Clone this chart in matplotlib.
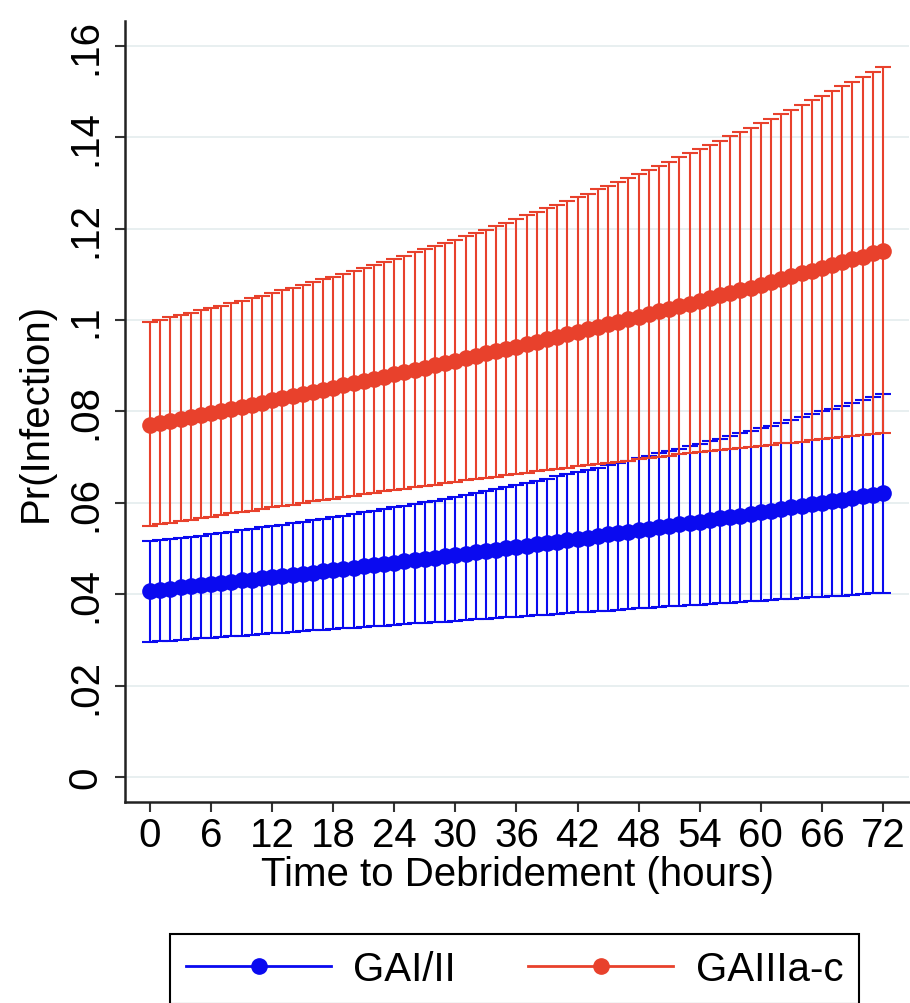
import matplotlib
matplotlib.use("Agg")
import matplotlib.pyplot as plt
from matplotlib.lines import Line2D

# time to debridement, one margin per hour
hours = list(range(73))

# GA I/II: predicted probability and 95% CI
blue_mean = [
    0.0407, 0.0410, 0.0412, 0.0415, 0.0417, 0.0420,
    0.0422, 0.0425, 0.0427, 0.0430, 0.0432, 0.0435,
    0.0437, 0.0440, 0.0442, 0.0445, 0.0447, 0.0450,
    0.0452, 0.0455, 0.0458, 0.0461, 0.0463, 0.0466,
    0.0469, 0.0472, 0.0475, 0.0477, 0.0480, 0.0483,
    0.0486, 0.0489, 0.0492, 0.0494, 0.0497, 0.0500,
    0.0503, 0.0506, 0.0509, 0.0512, 0.0515, 0.0518,
    0.0521, 0.0524, 0.0527, 0.0531, 0.0534, 0.0537,
    0.0540, 0.0543, 0.0546, 0.0550, 0.0553, 0.0556,
    0.0559, 0.0562, 0.0566, 0.0569, 0.0572, 0.0576,
    0.0579, 0.0583, 0.0586, 0.0590, 0.0593, 0.0597,
    0.0600, 0.0604, 0.0607, 0.0611, 0.0615, 0.0618, 0.0622,
]
blue_lo = [
    0.0295, 0.0297, 0.0298, 0.0300, 0.0302, 0.0303,
    0.0305, 0.0306, 0.0308, 0.0309, 0.0311, 0.0312,
    0.0314, 0.0316, 0.0317, 0.0319, 0.0321, 0.0322,
    0.0324, 0.0325, 0.0327, 0.0328, 0.0330, 0.0331,
    0.0333, 0.0334, 0.0336, 0.0337, 0.0339, 0.0340,
    0.0342, 0.0343, 0.0345, 0.0346, 0.0348, 0.0349,
    0.0351, 0.0352, 0.0354, 0.0355, 0.0357, 0.0358,
    0.0360, 0.0361, 0.0363, 0.0364, 0.0366, 0.0367,
    0.0369, 0.0370, 0.0372, 0.0373, 0.0374, 0.0376,
    0.0377, 0.0378, 0.0380, 0.0381, 0.0383, 0.0384,
    0.0386, 0.0387, 0.0389, 0.0390, 0.0391, 0.0393,
    0.0394, 0.0396, 0.0397, 0.0399, 0.0400, 0.0402, 0.0403,
]
blue_hi = [
    0.0516, 0.0518, 0.0521, 0.0523, 0.0526, 0.0528,
    0.0531, 0.0534, 0.0537, 0.0540, 0.0543, 0.0546,
    0.0549, 0.0552, 0.0555, 0.0558, 0.0562, 0.0565,
    0.0568, 0.0572, 0.0575, 0.0579, 0.0583, 0.0586,
    0.0590, 0.0594, 0.0598, 0.0601, 0.0605, 0.0609,
    0.0613, 0.0617, 0.0622, 0.0626, 0.0630, 0.0635,
    0.0639, 0.0644, 0.0648, 0.0653, 0.0658, 0.0662,
    0.0667, 0.0672, 0.0677, 0.0682, 0.0687, 0.0692,
    0.0697, 0.0702, 0.0708, 0.0713, 0.0718, 0.0724,
    0.0729, 0.0735, 0.0740, 0.0746, 0.0752, 0.0757,
    0.0763, 0.0769, 0.0775, 0.0781, 0.0788, 0.0794,
    0.0800, 0.0806, 0.0813, 0.0819, 0.0825, 0.0832, 0.0838,
]

# GA IIIa-c: predicted probability and 95% CI
red_mean = [
    0.0770, 0.0774, 0.0779, 0.0783, 0.0787, 0.0792,
    0.0796, 0.0801, 0.0805, 0.0810, 0.0815, 0.0819,
    0.0824, 0.0829, 0.0833, 0.0838, 0.0843, 0.0847,
    0.0852, 0.0857, 0.0862, 0.0866, 0.0871, 0.0876,
    0.0881, 0.0886, 0.0891, 0.0896, 0.0901, 0.0906,
    0.0911, 0.0916, 0.0921, 0.0927, 0.0932, 0.0937,
    0.0942, 0.0947, 0.0953, 0.0958, 0.0963, 0.0969,
    0.0974, 0.0980, 0.0985, 0.0991, 0.0996, 0.1002,
    0.1007, 0.1013, 0.1019, 0.1025, 0.1030, 0.1036,
    0.1042, 0.1048, 0.1054, 0.1060, 0.1065, 0.1071,
    0.1077, 0.1083, 0.1089, 0.1096, 0.1102, 0.1108,
    0.1114, 0.1120, 0.1127, 0.1133, 0.1139, 0.1146, 0.1152,
]
red_lo = [
    0.0549, 0.0553, 0.0556, 0.0560, 0.0563, 0.0567,
    0.0570, 0.0573, 0.0577, 0.0580, 0.0583, 0.0587,
    0.0590, 0.0593, 0.0596, 0.0600, 0.0603, 0.0606,
    0.0609, 0.0612, 0.0615, 0.0619, 0.0622, 0.0625,
    0.0628, 0.0631, 0.0634, 0.0637, 0.0640, 0.0643,
    0.0646, 0.0649, 0.0652, 0.0654, 0.0657, 0.0660,
    0.0663, 0.0666, 0.0669, 0.0671, 0.0674, 0.0677,
    0.0680, 0.0682, 0.0685, 0.0687, 0.0690, 0.0692,
    0.0695, 0.0698, 0.0700, 0.0703, 0.0706, 0.0708,
    0.0711, 0.0713, 0.0716, 0.0718, 0.0720, 0.0723,
    0.0725, 0.0727, 0.0730, 0.0732, 0.0734, 0.0737,
    0.0739, 0.0741, 0.0743, 0.0746, 0.0748, 0.0750, 0.0752,
]
red_hi = [
    0.0996, 0.1001, 0.1006, 0.1011, 0.1016, 0.1021,
    0.1026, 0.1031, 0.1037, 0.1042, 0.1048, 0.1053,
    0.1059, 0.1065, 0.1071, 0.1077, 0.1083, 0.1089,
    0.1095, 0.1101, 0.1108, 0.1114, 0.1121, 0.1127,
    0.1134, 0.1141, 0.1148, 0.1155, 0.1162, 0.1169,
    0.1176, 0.1183, 0.1191, 0.1198, 0.1206, 0.1213,
    0.1221, 0.1229, 0.1237, 0.1245, 0.1253, 0.1261,
    0.1269, 0.1277, 0.1286, 0.1294, 0.1303, 0.1311,
    0.1320, 0.1329, 0.1338, 0.1347, 0.1356, 0.1365,
    0.1374, 0.1383, 0.1393, 0.1402, 0.1412, 0.1421,
    0.1431, 0.1441, 0.1451, 0.1461, 0.1471, 0.1481,
    0.1491, 0.1501, 0.1512, 0.1522, 0.1533, 0.1543, 0.1554,
]

x_ticks = [0, 6, 12, 18, 24, 30, 36, 42, 48, 54, 60, 66, 72]
y_ticks = [0, 0.02, 0.04, 0.06, 0.08, 0.10, 0.12, 0.14, 0.16]
y_tick_labels = ["0", ".02", ".04", ".06", ".08", ".1", ".12", ".14", ".16"]
series_labels = ["GAI/II", "GAIIIa-c"]

BLUE = "#0a0af0"
RED = "#e8412c"

plt.rcParams["font.family"] = ["Liberation Sans", "DejaVu Sans"]

fig = plt.figure(figsize=(9.1, 10.04), dpi=100)
ax = fig.add_axes([0.1374, 0.2002, 0.862, 0.778])


def draw_margins(mean, lo, hi, color):
    yerr = [[m - l for m, l in zip(mean, lo)], [h - m for m, h in zip(mean, hi)]]
    ax.errorbar(hours, mean, yerr=yerr, fmt="none", ecolor=color,
                elinewidth=1.5, capsize=6, capthick=1.5, zorder=2)


def draw_line(mean, color):
    ax.plot(hours, mean, color=color, lw=5, marker="o", ms=12,
            markeredgewidth=0, zorder=3)


draw_margins(blue_mean, blue_lo, blue_hi, BLUE)
draw_margins(red_mean, red_lo, red_hi, RED)
draw_line(blue_mean, BLUE)
draw_line(red_mean, RED)

ax.set_xlim(-2.45, 74.6)
ax.set_ylim(-0.0055, 0.1655)
ax.set_xticks(x_ticks)
ax.set_yticks(y_ticks)
ax.set_yticklabels(y_tick_labels, rotation=90, va="center")
ax.tick_params(labelsize=29, length=7, width=1.5, color="#333333", pad=3)
ax.tick_params(axis="y", pad=8)
ax.grid(axis="y", color="#e4ecee", lw=1.2, zorder=0)
ax.set_axisbelow(True)

for side in ["top", "right"]:
    ax.spines[side].set_visible(False)
for side in ["left", "bottom"]:
    ax.spines[side].set_linewidth(1.8)
    ax.spines[side].set_color("#222222")

ax.set_xlabel("Time to Debridement (hours)", fontsize=29, labelpad=1)
ax.set_ylabel("Pr(Infection)", fontsize=29, labelpad=8)

handles = [
    Line2D([], [], color=BLUE, lw=2, marker="o", ms=11),
    Line2D([], [], color=RED, lw=2, marker="o", ms=11),
]
leg = fig.legend(handles, series_labels, loc="upper left",
                 bbox_to_anchor=(170 / 910, 1 - 935 / 1004), borderaxespad=0,
                 ncol=2, fontsize=29, handlelength=3.6, handletextpad=0.55,
                 columnspacing=1.8, borderpad=0.4, fancybox=False,
                 framealpha=1, edgecolor="black")
leg.get_frame().set_linewidth(1.5)

fig.savefig("out.png", dpi=100)
